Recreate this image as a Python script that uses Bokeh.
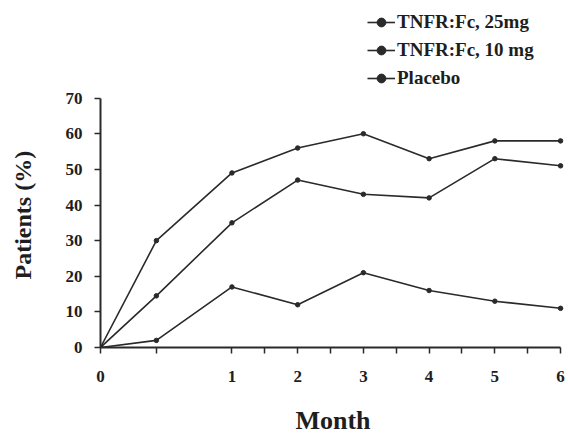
from bokeh.plotting import figure
from bokeh.models import FixedTicker, Range1d, Legend, LegendItem, Title
from bokeh.embed import file_html
from bokeh.resources import INLINE

# x positions on the (broken) time axis, in half-month units
x_pos = [0, 1.7, 4, 6, 8, 10, 12, 14]
tick_pos = [0, 1.7, 4, 5, 6, 7, 8, 9, 10, 11, 12, 13, 14]
tick_labels = ["0", "", "1", "", "2", "", "3", "", "4", "", "5", "", "6"]

tnfr25 = [0, 30, 49, 56, 60, 53, 58, 58]
tnfr10 = [0, 14.5, 35, 47, 43, 42, 53, 51]
placebo = [0, 2, 17, 12, 21, 16, 13, 11]

series = [("TNFR:Fc, 25mg", tnfr25), ("TNFR:Fc, 10 mg", tnfr10), ("Placebo", placebo)]

FONT = "Liberation Serif"
COL = "#2a2a2a"
TXT = "#1e1e1e"

p = figure(width=568, height=437, output_backend="svg", toolbar_location=None,
           x_range=Range1d(0, 14.15), y_range=Range1d(0, 96))
p.min_border_left = 100
p.min_border_right = 3
p.min_border_top = 5
p.min_border_bottom = 90
p.outline_line_color = None
p.xgrid.visible = False
p.ygrid.visible = False
p.background_fill_color = "white"

items = []
for name, vals in series:
    r1 = p.line(x_pos, vals, line_color=COL, line_width=1.6)
    r2 = p.scatter(x_pos, vals, size=4.5, fill_color=COL, line_color=COL)
    items.append(LegendItem(label=name, renderers=[r1, r2]))

legend = Legend(items=items, location=(267, 258))
legend.border_line_color = None
legend.background_fill_alpha = 0
legend.label_text_font = FONT
legend.label_text_font_style = "bold"
legend.label_text_font_size = "19px"
legend.label_text_color = TXT
legend.glyph_width = 28
legend.glyph_height = 22
legend.label_height = 22
legend.spacing = 6
legend.padding = 2
legend.margin = 0
legend.label_standoff = 2
p.add_layout(legend)

# x axis
xa = p.xaxis[0]
xa.ticker = FixedTicker(ticks=tick_pos)
xa.major_label_overrides = {t: l for t, l in zip(tick_pos, tick_labels)}
xa.bounds = (0, 14)
xa.minor_tick_line_color = None
xa.major_tick_in = 0
xa.major_tick_out = 6
xa.axis_line_width = 2
xa.axis_line_color = COL
xa.major_tick_line_color = COL
xa.major_tick_line_width = 1.5
xa.major_label_text_font = FONT
xa.major_label_text_font_style = "bold"
xa.major_label_text_font_size = "17px"
xa.major_label_text_color = TXT
xa.major_label_standoff = 17
xa.axis_label = "Month"
xa.axis_label_text_font = FONT
xa.axis_label_text_font_style = "bold"
xa.axis_label_text_font_size = "26px"
xa.axis_label_text_color = TXT
xa.axis_label_standoff = 21

# y axis
ya = p.yaxis[0]
ya.ticker = FixedTicker(ticks=[0, 10, 20, 30, 40, 50, 60, 70])
ya.bounds = (0, 70)
ya.minor_tick_line_color = None
ya.major_tick_in = 0
ya.major_tick_out = 6
ya.axis_line_width = 2
ya.axis_line_color = COL
ya.major_tick_line_color = COL
ya.major_tick_line_width = 1.5
ya.major_label_text_font = FONT
ya.major_label_text_font_style = "bold"
ya.major_label_text_font_size = "17px"
ya.major_label_text_color = TXT
ya.major_label_standoff = 12

# blank gap between the tick labels and the y axis title
gap = Title(text=" ", standoff=17, text_font_size="1px")
p.add_layout(gap, "left")

# y axis title, placed along the 0-70 part of the axis
ytitle = Title(text="Patients (%)", align="left", vertical_align="top", offset=68,
               standoff=10, text_font=FONT, text_font_style="bold",
               text_font_size="24px", text_color=TXT)
p.add_layout(ytitle, "left")

open("out.html", "w").write(file_html(p, INLINE))
